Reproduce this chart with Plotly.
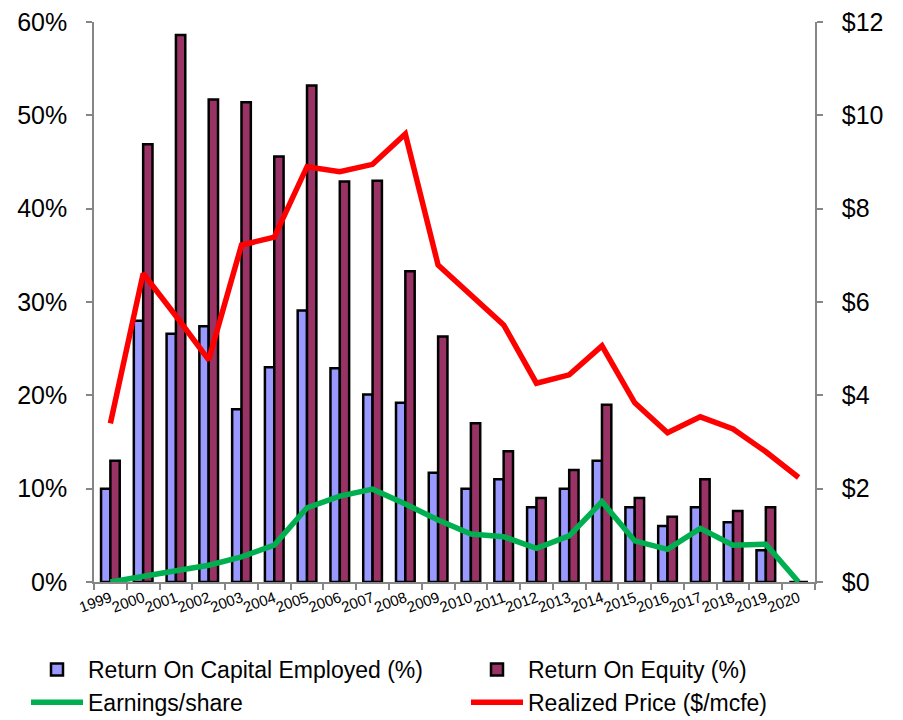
import plotly.graph_objects as go

years = [str(y) for y in range(1999, 2021)]

# Return on capital employed (%) and return on equity (%)
roce = [10.0, 28.0, 26.6, 27.4, 18.5, 23.0, 29.1, 22.9, 20.1, 19.2, 11.7,
        10.0, 11.0, 8.0, 10.0, 13.0, 8.0, 6.0, 8.0, 6.4, 3.4, 0.0]
roe = [13.0, 46.9, 58.6, 51.7, 51.4, 45.6, 53.2, 42.9, 43.0, 33.3, 26.3,
       17.0, 14.0, 9.0, 12.0, 19.0, 9.0, 7.0, 11.0, 7.6, 8.0, 0.0]

# Dollar series on the right-hand axis
eps = [0.0, 0.11, 0.24, 0.36, 0.54, 0.79, 1.59, 1.84, 1.99, 1.67, 1.33,
       1.03, 0.97, 0.72, 0.99, 1.72, 0.88, 0.70, 1.15, 0.79, 0.81, 0.0]
price = [3.40, 6.61, 5.70, 4.76, 7.22, 7.39, 8.90, 8.79, 8.95, 9.60, 6.79,
         6.15, 5.51, 4.26, 4.44, 5.06, 3.84, 3.20, 3.54, 3.28, 2.79, 2.24]

left_ticks = [0, 10, 20, 30, 40, 50, 60]
right_ticks = [0, 2, 4, 6, 8, 10, 12]

FONT = "Liberation Sans, Arial, sans-serif"
AXIS_GREY = "#868686"

fig = go.Figure()

# Left legend column: ROCE + EPS; right column: ROE + realized price
fig.add_trace(go.Bar(
    x=years, y=roce, name="Return On Capital Employed (%)",
    marker=dict(color="#9999FF", line=dict(color="black", width=2.5)),
    yaxis="y", legend="legend",
))
fig.add_trace(go.Bar(
    x=years, y=roe, name="Return On Equity (%)",
    marker=dict(color="#993366", line=dict(color="black", width=2.5)),
    yaxis="y", legend="legend2",
))
fig.add_trace(go.Scatter(
    x=years, y=eps, name="Earnings/share", mode="lines",
    line=dict(color="#00B050", width=5.5), yaxis="y2", legend="legend",
))
fig.add_trace(go.Scatter(
    x=years, y=price, name="Realized Price ($/mcfe)", mode="lines",
    line=dict(color="#FF0000", width=5.5), yaxis="y2", legend="legend2",
))

legend_common = dict(
    orientation="v",
    xref="container", yref="container",
    y=1 - 648 / 720, xanchor="left", yanchor="top",
    font=dict(size=23, family=FONT),
    itemwidth=52, tracegroupgap=0,
    traceorder="normal", bgcolor="rgba(0,0,0,0)",
)

fig.update_layout(
    width=903, height=720,
    margin=dict(l=94, r=88, t=22, b=138, autoexpand=False),
    paper_bgcolor="white", plot_bgcolor="white",
    font=dict(family=FONT, color="black"),
    barmode="group", bargap=0.43, bargroupgap=0.0,
    showlegend=True,
    legend=dict(x=26 / 903, **legend_common),
    legend2=dict(x=466 / 903, **legend_common),
    xaxis=dict(
        type="category", range=[-0.5, len(years) - 0.5],
        showline=True, linecolor=AXIS_GREY, linewidth=1.5,
        ticks="outside", tickson="boundaries", ticklen=6,
        tickcolor=AXIS_GREY, tickwidth=1.5,
        tickangle=-20, tickfont=dict(size=15, family=FONT),
        showgrid=False, zeroline=False, automargin=False,
    ),
    yaxis=dict(
        range=[0, 60], tickmode="array", tickvals=left_ticks,
        ticktext=[f"{v}%" for v in left_ticks],
        showline=True, linecolor=AXIS_GREY, linewidth=1.5,
        ticks="outside", ticklen=6, tickcolor=AXIS_GREY, tickwidth=1.5,
        tickfont=dict(size=25, family=FONT), ticklabelstandoff=14,
        showgrid=False, zeroline=False, automargin=False,
    ),
    yaxis2=dict(
        range=[0, 12], tickmode="array", tickvals=right_ticks,
        ticktext=[f"${v}" for v in right_ticks],
        overlaying="y", side="right",
        showline=True, linecolor=AXIS_GREY, linewidth=1.5,
        ticks="outside", ticklen=6, tickcolor=AXIS_GREY, tickwidth=1.5,
        tickfont=dict(size=25, family=FONT), ticklabelstandoff=14,
        showgrid=False, zeroline=False, automargin=False,
    ),
)

fig.write_html("out.html")
